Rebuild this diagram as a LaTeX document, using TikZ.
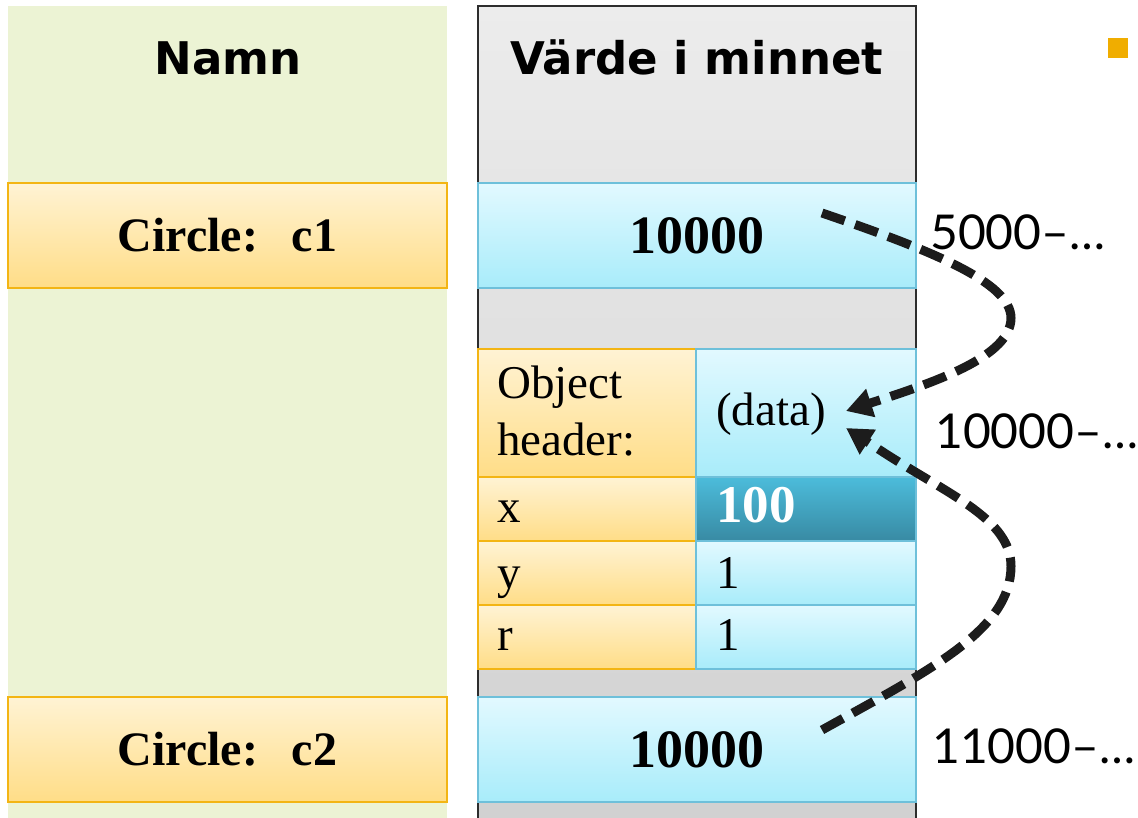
\documentclass[tikz,border=0pt]{standalone}
\usepackage{fontspec}
\setmainfont{Liberation Serif}
\newfontfamily\hdrfont{DejaVu Sans}
\newfontfamily\addrfont{Lato}
\usetikzlibrary{arrows.meta}
\definecolor{greenbg}{RGB}{236,243,212}
\definecolor{orTop}{RGB}{255,243,212}
\definecolor{orBot}{RGB}{255,221,135}
\definecolor{orLine}{RGB}{243,181,20}
\definecolor{cyTop}{RGB}{226,249,255}
\definecolor{cyBot}{RGB}{168,236,250}
\definecolor{cyLine}{RGB}{110,192,218}
\definecolor{dkTop}{RGB}{76,188,219}
\definecolor{dkBot}{RGB}{56,138,163}
\definecolor{grTop}{RGB}{236,236,236}
\definecolor{grBot}{RGB}{208,208,208}
\definecolor{grLine}{RGB}{45,45,45}
\definecolor{bulletcol}{RGB}{240,173,0}
\definecolor{arrowcol}{RGB}{28,28,28}
\begin{document}
\begin{tikzpicture}[x=1pt,y=-1pt,
  cell/.style={rectangle, inner sep=0pt, outer sep=0pt, anchor=north west, line width=1.2pt},
  orangecell/.style={cell, top color=orTop, bottom color=orBot, draw=orLine},
  cyancell/.style={cell, top color=cyTop, bottom color=cyBot, draw=cyLine},
  darkcell/.style={cell, top color=dkTop, bottom color=dkBot, draw=cyLine},
  hdrtext/.style={font=\hdrfont\bfseries\fontsize{45}{52}\selectfont, anchor=base, inner sep=0pt},
  nametext/.style={font=\bfseries\fontsize{48}{56}\selectfont},
  valtext/.style={font=\bfseries\fontsize{54}{62}\selectfont},
  celltext/.style={font=\fontsize{47}{54}\selectfont, anchor=base west, inner sep=0pt},
  addrtext/.style={font=\addrfont\fontsize{48}{56}\selectfont, anchor=base west, inner sep=0pt},
  conn/.style={line width=9pt, dash pattern=on 24pt off 11pt, draw=arrowcol,
    -{Triangle[length=26pt,width=28pt,fill=arrowcol]}}
]
\useasboundingbox (0,0) rectangle (1138,818);
\begin{scope}
\clip (0,0) rectangle (1138,818);
\node[cell, fill=greenbg, line width=0pt, minimum width=439pt, minimum height=830pt] (namecol) at (8,6) {};
\node[cell, top color=grTop, bottom color=grBot, draw=grLine, line width=2pt, minimum width=438pt, minimum height=830pt] (valcol) at (478,6) {};
\end{scope}
\node[hdrtext] (namehdr) at (228,75) {Namn};
\node[hdrtext] (valhdr) at (697,75) {Värde i minnet};
\node[cell, fill=bulletcol, line width=0pt, minimum width=20pt, minimum height=20pt] (bullet) at (1108,38) {};

% name boxes
\node[orangecell, minimum width=439pt, minimum height=105pt, nametext] (c1) at (8,183) {Circle:\hspace{0.7em}c1};
\node[orangecell, minimum width=439pt, minimum height=105pt, nametext] (c2) at (8,697) {Circle:\hspace{0.7em}c2};

% value boxes
\node[cyancell, minimum width=438pt, minimum height=105pt, valtext] (v1) at (478,183) {10000};
\node[cyancell, minimum width=438pt, minimum height=105pt, valtext] (v2) at (478,697) {10000};

% object cells
\node[orangecell, minimum width=218pt, minimum height=128pt] (hL) at (478,349) {};
\node[cyancell, minimum width=220pt, minimum height=128pt] (hR) at (696,349) {};
\node[orangecell, minimum width=218pt, minimum height=64pt] (xL) at (478,477) {};
\node[darkcell, minimum width=220pt, minimum height=64pt] (xR) at (696,477) {};
\node[orangecell, minimum width=218pt, minimum height=64pt] (yL) at (478,541) {};
\node[cyancell, minimum width=220pt, minimum height=64pt] (yR) at (696,541) {};
\node[orangecell, minimum width=218pt, minimum height=64pt] (rL) at (478,605) {};
\node[cyancell, minimum width=220pt, minimum height=64pt] (rR) at (696,605) {};

\node[celltext] (tobj) at (497,398) {Object};
\node[celltext] (thdr) at (497,455) {header:};
\node[celltext] (tdata) at (716,425) {(data)};
\node[celltext] (tx) at (497,522) {x};
\node[celltext, font=\bfseries\fontsize{53}{60}\selectfont, text=white] (tx100) at (716,522) {100};
\node[celltext] (ty) at (497,588) {y};
\node[celltext] (ty1) at (716,588) {1};
\node[celltext] (tr) at (497,650) {r};
\node[celltext] (tr1) at (716,650) {1};

% addresses
\node[addrtext] (a1) at (930,250) {5000–…};
\node[addrtext] (a2) at (935,448) {10000–…};
\node[addrtext] (a3) at (932,763) {11000–…};

% connectors
\coordinate (s1) at (822,213);
\coordinate (m1) at (1011,318);
\coordinate (p1) at (886,398);
\coordinate (t1) at (846,411);
\coordinate (s2) at (822,730);
\coordinate (m2) at (1011,566);
\coordinate (p2) at (886,454);
\coordinate (t2) at (846,428);
\draw[conn] (s1) .. controls (930,250) and (1011,282) .. (m1) .. controls (1011,355) and (940,380) .. (p1) -- (t1);
\draw[conn] (s2) .. controls (930,670) and (1011,630) .. (m2) .. controls (1011,520) and (950,495) .. (p2) -- (t2);
\end{tikzpicture}
\end{document}
